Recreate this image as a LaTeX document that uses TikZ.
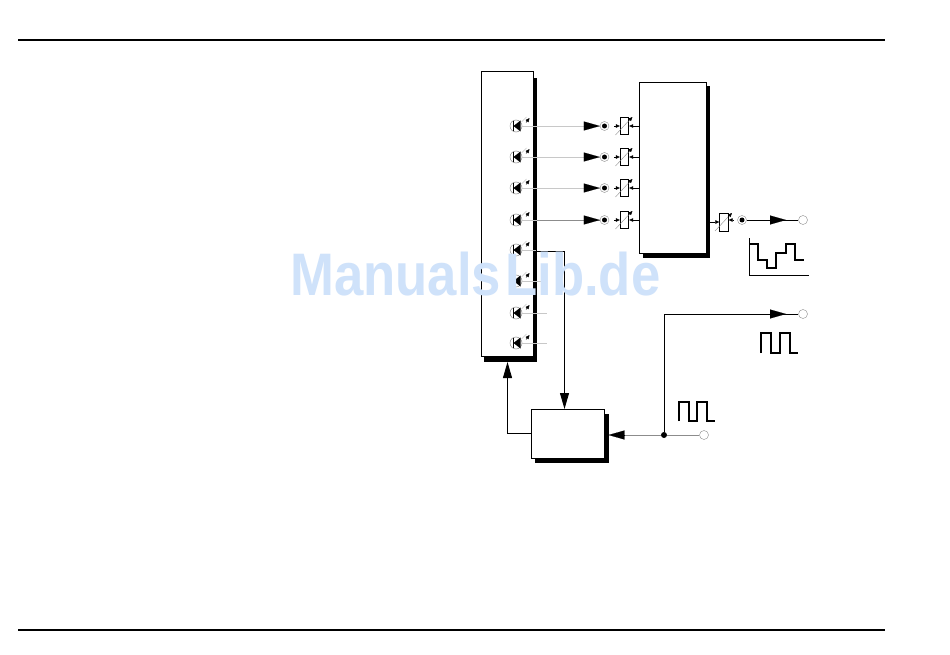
\documentclass[tikz,border=0pt]{standalone}
\usepackage{fontspec}
\setmainfont{Liberation Sans}
\usetikzlibrary{arrows.meta}
\definecolor{wm}{HTML}{CFE2FA}
\definecolor{lg}{HTML}{C8C8C8}
\definecolor{mg}{HTML}{8C8C8C}
\tikzset{
  x=1pt,y=-1pt,
  rule/.style={line width=1.5pt,black},
  blockbox/.style={draw=black,fill=white,line width=0.9pt},
  shadowbox/.style={fill=black,draw=none},
  wire/.style={line width=0.9pt,black},
  hd/.style={-{Triangle[length=16pt,width=9pt,fill=black]}},
  tiny/.style={-{Triangle[length=4pt,width=3.5pt,fill=black]},line width=0.5pt,black},
  port/.style={circle,draw=mg,fill=white,line width=0.4pt,minimum size=9pt,inner sep=0pt},
  portdot/.style={circle,fill=black,minimum size=5pt,inner sep=0pt},
  wave/.style={line width=1.2pt,black,line join=miter},
  atten/.style={draw=black,fill=white,line width=0.8pt,minimum width=8.5pt,minimum height=17pt,inner sep=0pt},
  dot/.style={circle,fill=black,minimum size=6pt,inner sep=0pt},
}
\newcommand{\ledsym}[3]{% x y name
  \node[circle,draw=mg,line width=0.5pt,minimum size=12pt,inner sep=0pt] (#3) at (#1,#2) {};
  \fill[black] (#1+4.5,#2-5.5) -- (#1-2.5,#2) -- (#1+4.5,#2+5.5) -- cycle;
  \draw[black,line width=1pt] (#1-2.5,#2-5) -- (#1-2.5,#2+5);
  \draw[lg,line width=0.6pt] (#1+5.5,#2-4) -- (#1+10.5,#2-9);
  \draw[tiny] (#1+10,#2-3.5) -- (#1+13.5,#2-8);
}
\newcommand{\attsym}[4]{% x y height name
  \node[atten,minimum height=#3] (#4) at (#1,#2) {};
  \draw[mg,line width=0.4pt] (#1-9,#2+9) -- (#1+4,#2-5);
  \draw[tiny] (#1+4,#2-5) -- (#1+8,#2-9);
}
\begin{document}
\begin{tikzpicture}
\useasboundingbox (0,0) rectangle (950,655);
\fill[white] (0,0) rectangle (950,655);
\coordinate (tl) at (18,40); \coordinate (tr) at (885,40);
\coordinate (bl) at (18,630); \coordinate (br) at (885,630);
\draw[rule] (tl) -- (tr);
\draw[rule] (bl) -- (br);
% blocks
\fill[shadowbox] (484,78) rectangle (536.5,362);
\node[blockbox,minimum width=52pt,minimum height=285pt,inner sep=0pt,anchor=north west] (A) at (481,71) {};
\fill[shadowbox] (643,86) rectangle (709.5,257.5);
\node[blockbox,minimum width=66.5pt,minimum height=171pt,inner sep=0pt,anchor=north west] (B) at (639,82) {};
\fill[shadowbox] (535,414) rectangle (608.5,463);
\node[blockbox,minimum width=73pt,minimum height=49pt,inner sep=0pt,anchor=north west] (C) at (531,409) {};
% optical channels
\foreach \n/\yy/\cc in {1/126/lg,2/157/lg,3/188/lg,4/220/mg}{
  \ledsym{516}{\yy}{L\n}
  \node[port] (P\n) at (604.5,\yy) {};
  \node[portdot] at (P\n) {};
  \attsym{624.5}{\yy}{17pt}{R\n}
  \coordinate (F\n) at (536.5,\yy);
  \draw[lg,line width=0.6pt] (L\n.east) -- (F\n);
  \draw[\cc,line width=0.6pt] (F\n) -- (P\n.west);
  \draw[black,hd,line width=0.1pt] (584,\yy) -- (P\n.west);
  \draw[tiny] (614,\yy) -- (R\n.west);
  \draw[tiny] (638.5,\yy) -- (R\n.east);
}
\ledsym{516}{250}{L5}
\draw[lg,line width=0.6pt] (L5.east) -- (536,250);
\ledsym{516}{281}{L6}
\coordinate (E6) at (541,281);
\draw[lg,line width=0.6pt] (L6.east) -- (E6);
\ledsym{516}{313}{L7}
\coordinate (E7) at (547,313);
\draw[lg,line width=0.6pt] (L7.east) -- (E7);
\ledsym{516}{343}{L8}
\coordinate (E8) at (547,343);
\draw[lg,line width=0.6pt] (L8.east) -- (E8);
% output 1
\attsym{724}{222}{18pt}{R9}
\draw[tiny] (B.east |- R9) -- (R9.west);
\node[port] (P9) at (742,220) {};
\node[portdot] at (P9) {};
\draw[tiny] (733,220) -- (R9.east |- 0,220);
\node[port] (O1) at (803,220) {};
\draw[wire] (P9.east) -- (O1.west);
\draw[black,hd,line width=0.1pt] (768,220) -- (786,220);
% waveform 1
\coordinate (ax1) at (749.5,238); \coordinate (ax2) at (749.5,275); \coordinate (ax3) at (809,275);
\draw[black,line width=0.8pt] (ax1) -- (ax2) -- (ax3);
\draw[wave] (750,244) -| (758,260) -| (767,268) -| (776,253) -| (786,244) -| (795,260) -- (804,260);
% output 2 and junction
\node[dot] (J) at (664,435) {};
\node[port] (O2) at (803,314) {};
\node[port] (I) at (704,435) {};
\coordinate (corner) at (664,314);
\draw[wire] (J) -- (corner) -- (O2.west);
\draw[black,hd,line width=0.1pt] (768,314) -- (786,314);
\draw[mg,line width=0.9pt] (I.west) -- (J);
\draw[mg,line width=0.9pt] (J) -- (620,435);
\draw[black,hd,line width=0.1pt] (625,435) -- (608.5,435);
\draw[wave] (761,353) |- (771,333) |- (780,353) |- (790,333) |- (798,353);
\draw[wave] (679,421) |- (689,402) |- (697,421) |- (707,402) |- (715,421);
% control loop
\coordinate (c1) at (507.5,433);
\draw[wire,hd] (C.west |- c1) -- (c1) -- (507.5,362);
\coordinate (c2) at (564.5,251);
\draw[wire,hd] (536.5,251) -- (c2) -- (C.north -| c2);
% watermark
\node[text=wm,font=\fontsize{60}{60}\selectfont\bfseries,inner sep=0pt,anchor=base west,xscale=0.878] (W) at (290,295) {Manuals\kern5pt Lib.de};
\end{tikzpicture}
\end{document}
